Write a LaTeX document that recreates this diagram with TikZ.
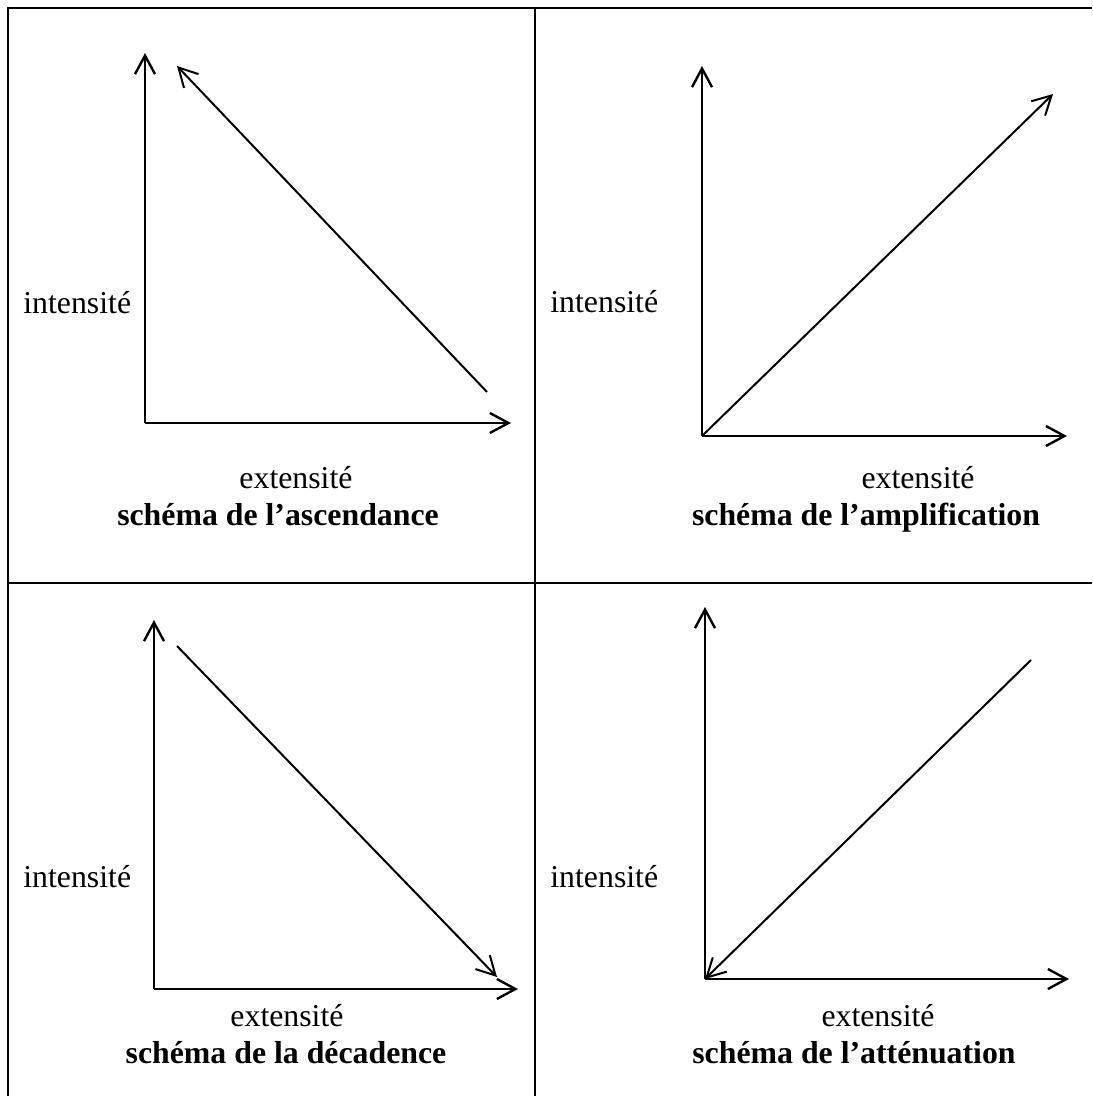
\documentclass[tikz,border=0pt]{standalone}
\usepackage{fontspec}
\setmainfont{Liberation Serif}
\usetikzlibrary{arrows.meta}
\tikzset{
  frameline/.style={line width=1.25pt},
  axisline/.style={line width=1.2pt,-{Straight Barb[length=9.3pt,width=10pt,line join=miter]}},
  diagline/.style={line width=1pt,-{Straight Barb[length=9.3pt,width=10pt]}},
  lbl/.style={inner sep=0pt,font=\fontsize{15.9}{19}\selectfont},
  ttl/.style={inner sep=0pt,font=\fontsize{15.9}{19}\selectfont\bfseries,anchor=base},
}
\begin{document}
\begin{tikzpicture}[x=0.5pt,y=-0.5pt]
\useasboundingbox (0,0) rectangle (1092,1096);
% frame
\coordinate (tl) at (8,8);
\coordinate (tr) at (1092,8);
\coordinate (bl) at (8,1096);
\coordinate (vt) at (535,8);
\coordinate (vb) at (535,1096);
\coordinate (hl) at (8,583);
\coordinate (hr) at (1092,583);
\draw[frameline] (bl) -- (tl) -- (tr);
\draw[frameline] (vt) -- (vb);
\draw[frameline] (hl) -- (hr);

% panel 1: ascendance
\coordinate (o1) at (145,423);
\coordinate (y1) at (145,53);
\coordinate (x1) at (511,423);
\coordinate (d1s) at (487,392);
\coordinate (d1e) at (177,66);
\draw[axisline] (o1) -- (y1);
\draw[axisline] (o1) -- (x1);
\draw[diagline] (d1s) -- (d1e);
\node[lbl,anchor=base west] (i1) at (23,314) {intensité};
\node[lbl,anchor=base] (e1) at (296,488) {extensité};
\node[ttl] (t1) at (278,525) {schéma de l’ascendance};

% panel 2: amplification
\coordinate (o2) at (702,436);
\coordinate (y2) at (702,66);
\coordinate (x2) at (1067,436);
\coordinate (d2e) at (1053,94);
\draw[axisline] (o2) -- (y2);
\draw[axisline] (o2) -- (x2);
\draw[diagline] (o2) -- (d2e);
\node[lbl,anchor=base west] (i2) at (550,313) {intensité};
\node[lbl,anchor=base] (e2) at (918,488) {extensité};
\node[ttl] (t2) at (866,525) {schéma de l’amplification};

% panel 3: decadence
\coordinate (o3) at (154,989);
\coordinate (y3) at (154,620);
\coordinate (x3) at (518,989);
\coordinate (d3s) at (177,646);
\coordinate (d3e) at (497,977);
\draw[axisline] (o3) -- (y3);
\draw[axisline] (o3) -- (x3);
\draw[diagline] (d3s) -- (d3e);
\node[lbl,anchor=base west] (i3) at (23,887) {intensité};
\node[lbl,anchor=base] (e3) at (287,1026) {extensité};
\node[ttl] (t3) at (286,1063) {schéma de la décadence};

% panel 4: attenuation
\coordinate (o4) at (705,979);
\coordinate (y4) at (705,607);
\coordinate (x4) at (1069,979);
\coordinate (d4s) at (1031,660);
\draw[axisline] (o4) -- (y4);
\draw[axisline] (o4) -- (x4);
\draw[diagline] (d4s) -- (o4);
\node[lbl,anchor=base west] (i4) at (550,887) {intensité};
\node[lbl,anchor=base] (e4) at (878,1026) {extensité};
\node[ttl] (t4) at (854,1063) {schéma de l’atténuation};
\end{tikzpicture}
\end{document}
